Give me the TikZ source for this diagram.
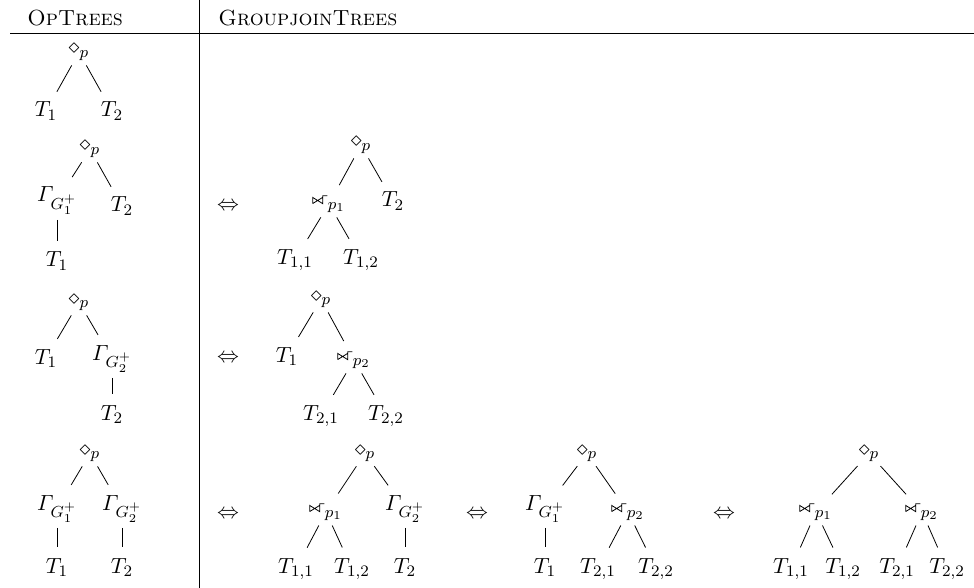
\documentclass[11pt,tikz,border=0pt]{standalone}
\usepackage{amsmath}
\usepackage{tikz}

\newcommand{\gjoin}{\tikz[baseline=0pt,x=1pt,y=1pt,line width=0.4pt]
  \draw[line join=miter] (0,1.2) -- (0,4.3) -- (5,1.2) -- (5,5.1) -- (7.4,5.1)
    (5,4.3) -- (0,1.2);}
\newcommand{\grp}[1]{\varGamma_{G_{#1}^{+}}}

\begin{document}
\begin{tikzpicture}[x=0.5pt,y=-0.5pt,
  tnode/.style={anchor=base,inner sep=1pt},
  branch/.style={shorten <=1.5pt,shorten >=4.5pt},
  head/.style={anchor=base west,inner sep=0pt}]
  \useasboundingbox (0,0) rectangle (974,588);
  \draw (10,33) -- (974,33);
  \draw (199.5,0) -- (199.5,588);
  \node[head] (hop) at (27,26) {\textsc{OpTrees}};
  \node[head] (hgj) at (218,26) {\textsc{GroupjoinTrees}};

  \node[tnode] (a) at (79,54) {$\diamond_p$};
  \node[tnode] (a1) at (46,117) {$T_1$};
  \node[tnode] (a2) at (112,117) {$T_2$};

  \node[tnode] (b) at (90,151) {$\diamond_p$};
  \node[tnode] (b1) at (57,202) {$\grp{1}$};
  \node[tnode] (b2) at (122,212) {$T_2$};
  \node[tnode] (b11) at (57,267) {$T_1$};
  \node[tnode] (bx) at (228,211) {$\Leftrightarrow$};
  \node[tnode] (bg) at (361,147) {$\diamond_p$};
  \node[tnode] (bg1) at (329,206) {${\gjoin}_{p_1}$};
  \node[tnode] (bg2) at (393,207) {$T_2$};
  \node[tnode] (bg11) at (295,264) {$T_{1,1}$};
  \node[tnode] (bg12) at (361,264) {$T_{1,2}$};

  \node[tnode] (c) at (79,304) {$\diamond_p$};
  \node[tnode] (c1) at (46,364) {$T_1$};
  \node[tnode] (c2) at (112,360) {$\grp{2}$};
  \node[tnode] (c22) at (112,420) {$T_2$};
  \node[tnode] (cx) at (228,362) {$\Leftrightarrow$};
  \node[tnode] (cg) at (321,301) {$\diamond_p$};
  \node[tnode] (cg1) at (287,362) {$T_1$};
  \node[tnode] (cg2) at (354,362) {${\gjoin}_{p_2}$};
  \node[tnode] (cg21) at (321,420) {$T_{2,1}$};
  \node[tnode] (cg22) at (386,420) {$T_{2,2}$};

  \node[tnode] (d) at (90,455) {$\diamond_p$};
  \node[tnode] (d1) at (57,510) {$\grp{1}$};
  \node[tnode] (d2) at (122,510) {$\grp{2}$};
  \node[tnode] (d11) at (57,573) {$T_1$};
  \node[tnode] (d22) at (122,573) {$T_2$};
  \node[tnode] (dx1) at (228,518) {$\Leftrightarrow$};
  \node[tnode] (e) at (365,455) {$\diamond_p$};
  \node[tnode] (e1) at (326,514) {${\gjoin}_{p_1}$};
  \node[tnode] (e2) at (405,510) {$\grp{2}$};
  \node[tnode] (e11) at (296,573) {$T_{1,1}$};
  \node[tnode] (e12) at (352,573) {$T_{1,2}$};
  \node[tnode] (e22) at (405,573) {$T_2$};
  \node[tnode] (dx2) at (477,518) {$\Leftrightarrow$};
  \node[tnode] (f) at (587,455) {$\diamond_p$};
  \node[tnode] (f1) at (545,510) {$\grp{1}$};
  \node[tnode] (f2) at (628,514) {${\gjoin}_{p_2}$};
  \node[tnode] (f11) at (545,573) {$T_1$};
  \node[tnode] (f21) at (598,573) {$T_{2,1}$};
  \node[tnode] (f22) at (656,573) {$T_{2,2}$};
  \node[tnode] (dx3) at (724,518) {$\Leftrightarrow$};
  \node[tnode] (g) at (869,455) {$\diamond_p$};
  \node[tnode] (g1) at (816,514) {${\gjoin}_{p_1}$};
  \node[tnode] (g2) at (922,514) {${\gjoin}_{p_2}$};
  \node[tnode] (g11) at (791,573) {$T_{1,1}$};
  \node[tnode] (g12) at (843,573) {$T_{1,2}$};
  \node[tnode] (g21) at (897,573) {$T_{2,1}$};
  \node[tnode] (g22) at (947,573) {$T_{2,2}$};

  \foreach \p/\q in {a/a1,a/a2,b/b1,b/b2,b1/b11,bg/bg1,bg/bg2,bg1/bg11,bg1/bg12,
    c/c1,c/c2,c2/c22,cg/cg1,cg/cg2,cg2/cg21,cg2/cg22,
    d/d1,d/d2,d1/d11,d2/d22,e/e1,e/e2,e1/e11,e1/e12,e2/e22,
    f/f1,f/f2,f1/f11,f2/f21,f2/f22,g/g1,g/g2,g1/g11,g1/g12,g2/g21,g2/g22}
    \draw[branch] (\p) -- (\q);
\end{tikzpicture}
\end{document}
